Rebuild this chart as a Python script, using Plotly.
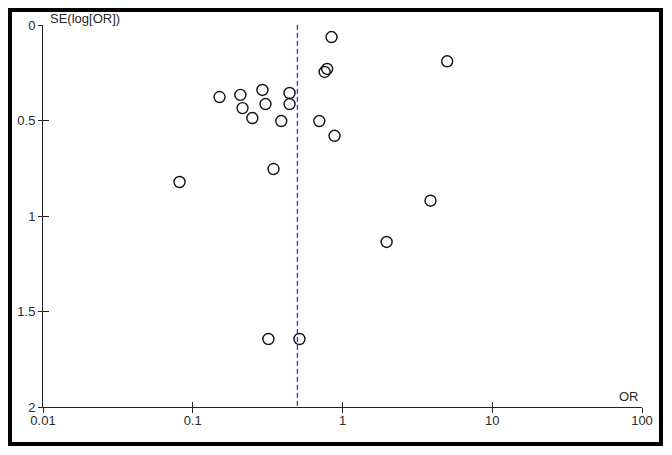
import plotly.graph_objects as go

# study estimates
odds_ratio = [0.845, 5.0, 0.79, 0.76, 0.151, 0.208, 0.292, 0.443, 0.215, 0.306, 0.443,
              0.25, 0.39, 0.70, 0.885, 0.346, 0.0816, 3.87, 1.97, 0.32, 0.516]
se_log_or = [0.063, 0.19, 0.23, 0.246, 0.377, 0.366, 0.34, 0.356, 0.435, 0.414, 0.414,
             0.487, 0.503, 0.503, 0.58, 0.754, 0.822, 0.92, 1.136, 1.644, 1.644]

pooled_or = 0.50
se_span = [0, 2]

x_tickvals = [0.01, 0.1, 1, 10, 100]
x_ticktext = ["0.01", "0.1", "1", "10", "100"]
y_tickvals = [0, 0.5, 1, 1.5, 2]
y_ticktext = ["0", "0.5", "1", "1.5", "2"]

FONT = "Liberation Sans, Arial, sans-serif"
FONT_SIZE = 13
AXIS_COLOR = "#222222"
TEXT_COLOR = "#2a2a2a"

fig = go.Figure()

fig.add_trace(
    go.Scatter(
        x=[pooled_or, pooled_or],
        y=se_span,
        mode="lines",
        line=dict(color="#3a3ac0", width=1.3, dash="5px,3px"),
        hoverinfo="skip",
        showlegend=False,
    )
)

fig.add_trace(
    go.Scatter(
        x=odds_ratio,
        y=se_log_or,
        mode="markers",
        marker=dict(symbol="circle-open", size=11, color="#111111",
                    line=dict(width=1.4, color="#111111")),
        hovertemplate="OR %{x:.2f}<br>SE %{y:.2f}<extra></extra>",
        showlegend=False,
    )
)

# invisible trace so the overlay axes (inner half of the ticks) get drawn
fig.add_trace(
    go.Scatter(
        x=[pooled_or],
        y=[0],
        xaxis="x2",
        yaxis="y2",
        mode="markers",
        marker=dict(opacity=0),
        hoverinfo="skip",
        showlegend=False,
    )
)

axis_common = dict(
    showgrid=False,
    zeroline=False,
    automargin=False,
    linecolor=AXIS_COLOR,
    linewidth=1,
    tickcolor=AXIS_COLOR,
    tickwidth=1,
)
tick_font = dict(family=FONT, size=FONT_SIZE, color=TEXT_COLOR)

# the page body has an 8px margin, so the figure is a bit smaller than the window
fig.update_layout(
    template="none",
    width=664,
    height=447,
    margin=dict(l=35, r=30, t=17, b=48),
    paper_bgcolor="white",
    plot_bgcolor="white",
    font=dict(family=FONT, size=FONT_SIZE, color=TEXT_COLOR),
    xaxis=dict(
        type="log",
        range=[-2, 2],
        tickvals=x_tickvals,
        ticktext=x_ticktext,
        ticks="outside",
        ticklen=5,
        ticklabelstandoff=-4,
        showline=True,
        tickfont=tick_font,
        **axis_common,
    ),
    yaxis=dict(
        range=[2, 0],
        tickvals=y_tickvals,
        ticktext=y_ticktext,
        ticks="outside",
        ticklen=4,
        showline=True,
        tickfont=tick_font,
        **axis_common,
    ),
    xaxis2=dict(
        type="log",
        range=[-2, 2],
        overlaying="x",
        side="bottom",
        tickvals=x_tickvals,
        ticks="inside",
        ticklen=5,
        showticklabels=False,
        showline=False,
        **axis_common,
    ),
    yaxis2=dict(
        range=[2, 0],
        overlaying="y",
        side="left",
        tickvals=y_tickvals,
        ticks="inside",
        ticklen=6,
        showticklabels=False,
        showline=False,
        **axis_common,
    ),
    annotations=[
        dict(text="SE(log[OR])", xref="paper", yref="paper", x=0.008, y=1,
             xanchor="left", yanchor="bottom", yshift=-3, showarrow=False,
             font=tick_font),
        dict(text="OR", xref="paper", yref="paper", x=0.998, y=0,
             xanchor="right", yanchor="bottom", yshift=1, showarrow=False,
             font=tick_font),
    ],
    shapes=[
        dict(type="rect", xref="paper", yref="paper",
             x0=-0.0551, x1=1.0317, y0=-0.0969, y1=1.0393,
             line=dict(color="black", width=4), fillcolor="rgba(0,0,0,0)",
             layer="above"),
    ],
)

fig.write_html("out.html")
